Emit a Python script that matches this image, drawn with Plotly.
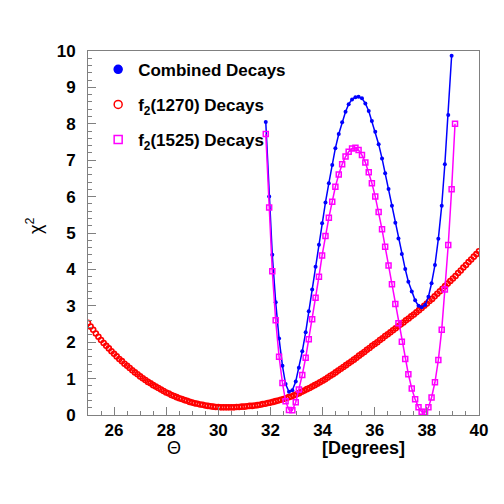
import plotly.graph_objects as go

# scan angles for the two f2 fits (degrees)
theta_scan = [31.82, 31.95, 32.07, 32.20, 32.33, 32.46, 32.58, 32.71, 32.84, 32.97,
              33.09, 33.22, 33.35, 33.47, 33.60, 33.73, 33.86, 33.98, 34.11, 34.24,
              34.37, 34.49, 34.62, 34.75, 34.88, 35.00, 35.13, 35.26, 35.38, 35.51,
              35.64, 35.77, 35.89, 36.02, 36.15, 36.28, 36.40, 36.53, 36.66, 36.79,
              36.91, 37.04, 37.17, 37.29, 37.42, 37.55, 37.68, 37.80, 37.93, 38.06,
              38.18, 38.31, 38.44, 38.57, 38.69, 38.82, 38.95, 39.08]

chi2_combined = [8.05, 6.0, 4.4, 3.1, 2.1, 1.35, 0.85, 0.64, 0.68, 0.92,
                 1.3, 1.75, 2.27, 2.85, 3.45, 4.07, 4.68, 5.27, 5.84, 6.37,
                 6.87, 7.33, 7.72, 8.04, 8.33, 8.54, 8.67, 8.73, 8.74, 8.7,
                 8.56, 8.35, 8.08, 7.78, 7.44, 7.05, 6.64, 6.21, 5.75, 5.28,
                 4.85, 4.42, 4.01, 3.66, 3.39, 3.15, 3.0, 2.96, 3.02, 3.25,
                 3.62, 4.12, 4.84, 5.75, 6.89, 8.24, 9.87]

chi2_f1525 = [7.72, 5.7, 3.95, 2.6, 1.6, 0.88, 0.38, 0.14, 0.13, 0.35,
              0.7, 1.1, 1.57, 2.08, 2.63, 3.22, 3.8, 4.38, 4.92, 5.42,
              5.86, 6.27, 6.61, 6.89, 7.1, 7.23, 7.32, 7.34, 7.28, 7.14,
              6.94, 6.67, 6.37, 6.0, 5.58, 5.1, 4.62, 4.11, 3.59, 3.05,
              2.52, 2.01, 1.54, 1.12, 0.73, 0.43, 0.21, 0.09, 0.08, 0.21,
              0.48, 0.9, 1.51, 2.34, 3.45, 4.67, 6.2, 8.0]

# f2(1270) scan, 25..40 deg in 0.1 deg steps
theta_fine = [round(25 + 0.1 * i, 1) for i in range(151)]
chi2_f1270 = [2.53, 2.43, 2.34, 2.24, 2.15, 2.06, 1.98, 1.90, 1.83, 1.75,
              1.68, 1.61, 1.54, 1.48, 1.41, 1.35, 1.29, 1.23, 1.17, 1.12,
              1.06, 1.01, 0.96, 0.91, 0.87, 0.82, 0.78, 0.74, 0.70, 0.66,
              0.62, 0.59, 0.55, 0.52, 0.49, 0.46, 0.44, 0.41, 0.39, 0.36,
              0.34, 0.32, 0.31, 0.29, 0.28, 0.26, 0.25, 0.24, 0.23, 0.22,
              0.22, 0.21, 0.21, 0.21, 0.21, 0.21, 0.21, 0.22, 0.22, 0.23,
              0.23, 0.24, 0.25, 0.25, 0.26, 0.27, 0.28, 0.30, 0.31, 0.33,
              0.34, 0.36, 0.38, 0.40, 0.42, 0.44, 0.46, 0.49, 0.51, 0.54,
              0.57, 0.60, 0.64, 0.67, 0.71, 0.74, 0.78, 0.82, 0.86, 0.90,
              0.94, 0.98, 1.03, 1.08, 1.12, 1.17, 1.22, 1.27, 1.32, 1.37,
              1.42, 1.47, 1.52, 1.57, 1.63, 1.68, 1.73, 1.79, 1.84, 1.90,
              1.95, 2.00, 2.06, 2.11, 2.17, 2.22, 2.27, 2.33, 2.38, 2.44,
              2.49, 2.54, 2.60, 2.65, 2.71, 2.76, 2.82, 2.88, 2.94, 3.00,
              3.06, 3.13, 3.19, 3.26, 3.33, 3.40, 3.47, 3.54, 3.61, 3.68,
              3.75, 3.82, 3.90, 3.97, 4.05, 4.12, 4.20, 4.27, 4.35, 4.42,
              4.50]

FONT = "Liberation Sans"
GREY = "#808080"
MAGENTA = "#ff00ff"

fig = go.Figure()

fig.add_trace(go.Scatter(x=theta_fine, y=chi2_f1270, mode="markers", showlegend=False,
                         marker=dict(symbol="circle-open", size=5, color="red",
                                     line=dict(width=1.6, color="red"))))
fig.add_trace(go.Scatter(x=theta_scan[:len(chi2_combined)], y=chi2_combined,
                         mode="lines+markers", showlegend=False,
                         line=dict(color="blue", width=1.5),
                         marker=dict(symbol="circle", size=4, color="blue")))
fig.add_trace(go.Scatter(x=theta_scan, y=chi2_f1525, mode="lines+markers", showlegend=False,
                         line=dict(color=MAGENTA, width=1.5),
                         marker=dict(symbol="square-open", size=5, color=MAGENTA,
                                     line=dict(width=1.5, color=MAGENTA))))

# legend entries (markers only, like the original)
legend_items = [("Combined Decays", "circle", "blue"),
                ("f<sub>2</sub>(1270) Decays", "circle-open", "red"),
                ("f<sub>2</sub>(1525) Decays", "square-open", MAGENTA)]
for i, (name, sym, col) in enumerate(legend_items):
    fig.add_trace(go.Scatter(x=[None], y=[None], mode="markers", name=name,
                             legendgroup=str(i),
                             marker=dict(symbol=sym, size=8, color=col,
                                         line=dict(width=1.5, color=col))))

axis_common = dict(showline=True, linecolor=GREY, linewidth=1, mirror=True,
                   showgrid=False, zeroline=False, ticks="inside", tickcolor=GREY,
                   ticklen=8, tickwidth=1,
                   tickfont=dict(family=FONT, size=17, color="black", weight="bold"))

fig.update_xaxes(range=[25, 40], dtick=2, tick0=0, ticklabelstandoff=0,
                 minor=dict(ticks="inside", dtick=0.5, ticklen=4, tickcolor=GREY),
                 **axis_common)
fig.update_yaxes(range=[0, 10], dtick=1, tick0=0, ticklabelstandoff=8,
                 minor=dict(ticks="inside", dtick=0.2, ticklen=4, tickcolor=GREY),
                 **axis_common)

fig.add_annotation(x=28.3, y=-0.092, xref="x", yref="paper", text="Θ", showarrow=False,
                   xanchor="center", yanchor="middle",
                   font=dict(family=FONT, size=18, color="black"))
fig.add_annotation(x=35.55, y=-0.09, xref="x", yref="paper", text="[Degrees]",
                   showarrow=False, xanchor="center", yanchor="middle",
                   font=dict(family=FONT, size=18, color="black", weight="bold"))
fig.add_annotation(x=-0.135, y=0.52, xref="paper", yref="paper", text="χ<sup>2</sup>",
                   textangle=-90, showarrow=False, xanchor="center", yanchor="middle",
                   font=dict(family=FONT, size=18, color="black"))

fig.update_layout(
    width=504, height=504,
    margin=dict(l=80, r=33, t=43, b=97),
    plot_bgcolor="white", paper_bgcolor="white",
    legend=dict(x=0.026, y=0.998, xanchor="left", yanchor="top",
                bgcolor="rgba(0,0,0,0)", tracegroupgap=10,
                font=dict(family=FONT, size=17, color="black", weight="bold")),
)

fig.write_html("out.html")
